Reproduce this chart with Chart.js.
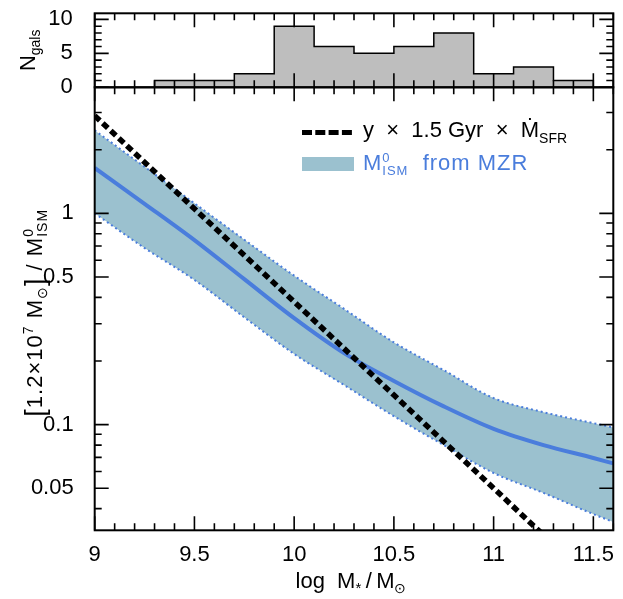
<!DOCTYPE html>
<html>
<head>
<meta charset="utf-8">
<script src="https://cdn.jsdelivr.net/npm/chart.js@4.4.1/dist/chart.umd.min.js"></script>
<style>
  html, body { margin: 0; padding: 0; background: #fff; }
  #wrap { position: relative; width: 623px; height: 599px; }
  canvas { position: absolute; left: 0; top: 0; }
</style>
</head>
<body>
<div id="wrap">
  <canvas id="hist" width="623" height="100"></canvas>
  <canvas id="main" width="623" height="599"></canvas>
</div>
<script>
// histogram of the sample (left bin edges, counts)
const binEdges = [9.3, 9.5, 9.7, 9.9, 10.1, 10.3, 10.5, 10.7, 10.9, 11.1, 11.3, 11.5];
const binCounts = [1, 1, 2, 9, 6, 5, 6, 8, 2, 3, 1];

const logMass = [9.0, 9.25, 9.5, 9.75, 10.0, 10.25, 10.5, 10.75, 11.0, 11.25, 11.5, 11.6];
const mzrMid  = [1.64, 1.11, 0.747, 0.488, 0.319, 0.218, 0.161, 0.122, 0.0955, 0.080, 0.0695, 0.0655];
const mzrHigh = [2.47, 1.66, 1.115, 0.75, 0.507, 0.353, 0.245, 0.181, 0.1335, 0.1145, 0.1016, 0.097];
const mzrLow  = [1.0, 0.685, 0.484, 0.322, 0.216, 0.154, 0.1096, 0.080, 0.059, 0.0475, 0.0377, 0.0346];

// y x 1.5 Gyr x SFR
const sfrMass  = [9.0, 9.5, 10.0, 10.5, 11.0, 11.25];
const sfrRatio = [2.9, 1.05, 0.381, 0.138, 0.050, 0.030];

// tick labels
const xTicks = [9, 9.5, 10, 10.5, 11, 11.5];
const yTicks = [0.05, 0.1, 0.5, 1];
const histTicks = [0, 5, 10];

const FONT = "'Liberation Sans', Arial, Helvetica, sans-serif";
const BLUE = '#4a7ddc';
const BAND = '#9bc1cf';

function font(size) { return size + 'px ' + FONT; }

// minor tick positions
const xMinor = [];
for (let i = 91; i <= 116; i++) if (i % 5) xMinor.push(i / 10);
const yMinor = [0.04, 0.06, 0.07, 0.08, 0.09, 0.2, 0.3, 0.4, 0.6, 0.7, 0.8, 0.9, 2, 3];
const histMinor = [1, 2, 3, 4, 6, 7, 8, 9];

// inward ticks on all four sides + frame
const frameTicks = {
  id: 'frameTicks',
  afterDatasetsDraw(chart, args, opts) {
    const {ctx, chartArea: a} = chart;
    const xs = chart.scales.x, ys = chart.scales.y;
    ctx.save();
    ctx.strokeStyle = '#000';
    ctx.lineWidth = 1.6;
    ctx.beginPath();
    const xt = (v, len) => {
      const p = xs.getPixelForValue(v);
      ctx.moveTo(p, a.bottom); ctx.lineTo(p, a.bottom - len);
      ctx.moveTo(p, a.top); ctx.lineTo(p, a.top + len);
    };
    const yt = (v, len) => {
      const p = ys.getPixelForValue(v);
      ctx.moveTo(a.left, p); ctx.lineTo(a.left + len, p);
      ctx.moveTo(a.right, p); ctx.lineTo(a.right - len, p);
    };
    xTicks.forEach(v => xt(v, 14));
    xMinor.forEach(v => xt(v, 7));
    opts.yMajor.forEach(v => yt(v, 14));
    opts.yMinor.forEach(v => yt(v, 7));
    ctx.stroke();
    ctx.lineWidth = 2;
    ctx.strokeRect(a.left, a.top, a.right - a.left, a.bottom - a.top);
    ctx.restore();
  }
};

// text with sub/superscripts: {t, size, dy} or stacked {sup, sub, size, up, down}
function textRuns(ctx, runs, x, y, draw) {
  let cx = x;
  for (const r of runs) {
    ctx.font = font(r.size);
    if (r.sup !== undefined) {
      const w = Math.max(ctx.measureText(r.sup).width, ctx.measureText(r.sub).width);
      if (draw) {
        ctx.fillText(r.sup, cx, y - r.up);
        ctx.fillText(r.sub, cx, y + r.down);
      }
      cx += w;
    } else {
      if (draw) ctx.fillText(r.t, cx, y + (r.dy || 0));
      cx += ctx.measureText(r.t).width;
    }
  }
  return cx - x;
}
function centeredRuns(ctx, runs, cx, y) {
  const w = textRuns(ctx, runs, 0, 0, false);
  textRuns(ctx, runs, cx - w / 2, y, true);
}

const mainText = {
  id: 'mainText',
  afterDraw(chart) {
    const {ctx, chartArea: a} = chart;
    ctx.save();
    ctx.fillStyle = '#000';
    ctx.textAlign = 'left';
    ctx.textBaseline = 'alphabetic';

    centeredRuns(ctx, [
      {t: 'log  M', size: 22}, {t: '*', size: 15, dy: 5},
      {t: '\u2009/\u2009M', size: 22}, {t: '\u2299', size: 14, dy: 5}
    ], (a.left + a.right) / 2 - 3, 588);

    ctx.save();
    ctx.translate(42, (a.top + a.bottom) / 2 + 4);
    ctx.rotate(-Math.PI / 2);
    ctx.letterSpacing = '1px';
    centeredRuns(ctx, [
      {t: '[', size: 27, dy: 2}, {t: '1.2\u00d710', size: 22}, {t: '7', size: 14, dy: -9},
      {t: ' M', size: 22}, {t: '\u2299', size: 14, dy: 5}, {t: ']', size: 27, dy: 2},
      {t: ' / M', size: 22}, {sup: '0', sub: 'ISM', size: 14, up: 9, down: 5}
    ], 0, 0);
    ctx.restore();

    // legend
    ctx.save();
    ctx.strokeStyle = '#000';
    ctx.lineWidth = 5;
    ctx.setLineDash([10, 3.3]);
    ctx.beginPath();
    ctx.moveTo(302, 132.5); ctx.lineTo(352, 132.5);
    ctx.stroke();
    ctx.restore();
    textRuns(ctx, [
      {t: 'y  \u00d7  1.5 Gyr  \u00d7  \u1e40', size: 22}, {t: 'SFR', size: 14, dy: 5.5}
    ], 363, 137, true);

    ctx.fillStyle = BAND;
    ctx.fillRect(302, 157, 52, 14);
    ctx.fillStyle = BLUE;
    ctx.letterSpacing = '1px';
    textRuns(ctx, [
      {t: 'M', size: 22}, {sup: '0', sub: 'ISM', size: 13, up: 8, down: 5},
      {t: '  from MZR', size: 22}
    ], 363, 170, true);
    ctx.restore();
  }
};

const histText = {
  id: 'histText',
  afterDraw(chart) {
    const {ctx, chartArea: a} = chart;
    ctx.save();
    ctx.fillStyle = '#000';
    ctx.textBaseline = 'alphabetic';
    ctx.translate(35, (a.top + a.bottom) / 2);
    ctx.rotate(-Math.PI / 2);
    centeredRuns(ctx, [{t: 'N', size: 22}, {t: 'gals', size: 14, dy: 5}], 0, 0);
    ctx.restore();
  }
};

function noPad(s) { s.paddingTop = 0; s.paddingBottom = 0; s.paddingLeft = 0; s.paddingRight = 0; }

const histPoints = [{x: binEdges[0], y: 0}]
  .concat(binCounts.map((c, i) => ({x: binEdges[i], y: c})))
  .concat([{x: binEdges[binEdges.length - 1], y: 0}]);

new Chart(document.getElementById('hist'), {
  type: 'line',
  data: {
    datasets: [{
      data: histPoints,
      stepped: true,
      fill: 'origin',
      backgroundColor: '#bebebe',
      borderColor: '#000',
      borderWidth: 1.5,
      pointRadius: 0
    }]
  },
  options: {
    responsive: false,
    animation: false,
    devicePixelRatio: 1,
    layout: { padding: { top: 13.3, right: 9.7, left: 0, bottom: 0 } },
    plugins: {
      legend: { display: false },
      tooltip: { enabled: false },
      frameTicks: { yMajor: histTicks, yMinor: histMinor }
    },
    scales: {
      x: {
        type: 'linear', min: 9, max: 11.6,
        ticks: { display: false },
        grid: { display: false }, border: { display: false },
        afterFit(s) { s.height = 12.7; noPad(s); }
      },
      y: {
        min: 0, max: 10.9,
        afterBuildTicks(s) { s.ticks = histTicks.map(v => ({value: v})); },
        ticks: { color: '#000', font: { family: FONT, size: 22 }, padding: 14 },
        grid: { display: false }, border: { display: false },
        afterFit(s) { s.width = 94.7; noPad(s); }
      }
    }
  },
  plugins: [frameTicks, histText]
});

const pts = (xs, ys) => xs.map((x, i) => ({x: x, y: ys[i]}));
const curve = { pointRadius: 0, cubicInterpolationMode: 'monotone' };

new Chart(document.getElementById('main'), {
  type: 'line',
  data: {
    datasets: [
      { data: pts(sfrMass, sfrRatio), borderColor: '#000', borderWidth: 5.5,
        borderDash: [7, 4], pointRadius: 0, fill: false, tension: 0 },
      Object.assign({}, curve, { data: pts(logMass, mzrMid), borderColor: BLUE, borderWidth: 4, fill: false }),
      Object.assign({}, curve, { data: pts(logMass, mzrLow), borderColor: BLUE, borderWidth: 2,
        borderDash: [2, 3], fill: false }),
      Object.assign({}, curve, { data: pts(logMass, mzrHigh), borderColor: BLUE, borderWidth: 2,
        borderDash: [2, 3], fill: '-1', backgroundColor: BAND })
    ]
  },
  options: {
    responsive: false,
    animation: false,
    devicePixelRatio: 1,
    layout: { padding: { top: 87.3, right: 9.7, left: 0, bottom: 0 } },
    plugins: {
      legend: { display: false },
      tooltip: { enabled: false },
      frameTicks: { yMajor: yTicks, yMinor: yMinor }
    },
    scales: {
      x: {
        type: 'linear', min: 9, max: 11.6,
        afterBuildTicks(s) { s.ticks = xTicks.map(v => ({value: v})); },
        ticks: { color: '#000', font: { family: FONT, size: 22 }, padding: 3, maxRotation: 0,
          callback: v => String(v) },
        grid: { display: false }, border: { display: false },
        afterFit(s) { s.height = 68.7; noPad(s); }
      },
      y: {
        type: 'logarithmic', min: 0.0316, max: 3.95,
        afterBuildTicks(s) { s.ticks = yTicks.map(v => ({value: v})); },
        ticks: { color: '#000', font: { family: FONT, size: 22 }, padding: 13,
          callback: v => String(v) },
        grid: { display: false }, border: { display: false },
        afterFit(s) { s.width = 94.7; noPad(s); }
      }
    }
  },
  plugins: [frameTicks, mainText]
});
</script>
</body>
</html>
